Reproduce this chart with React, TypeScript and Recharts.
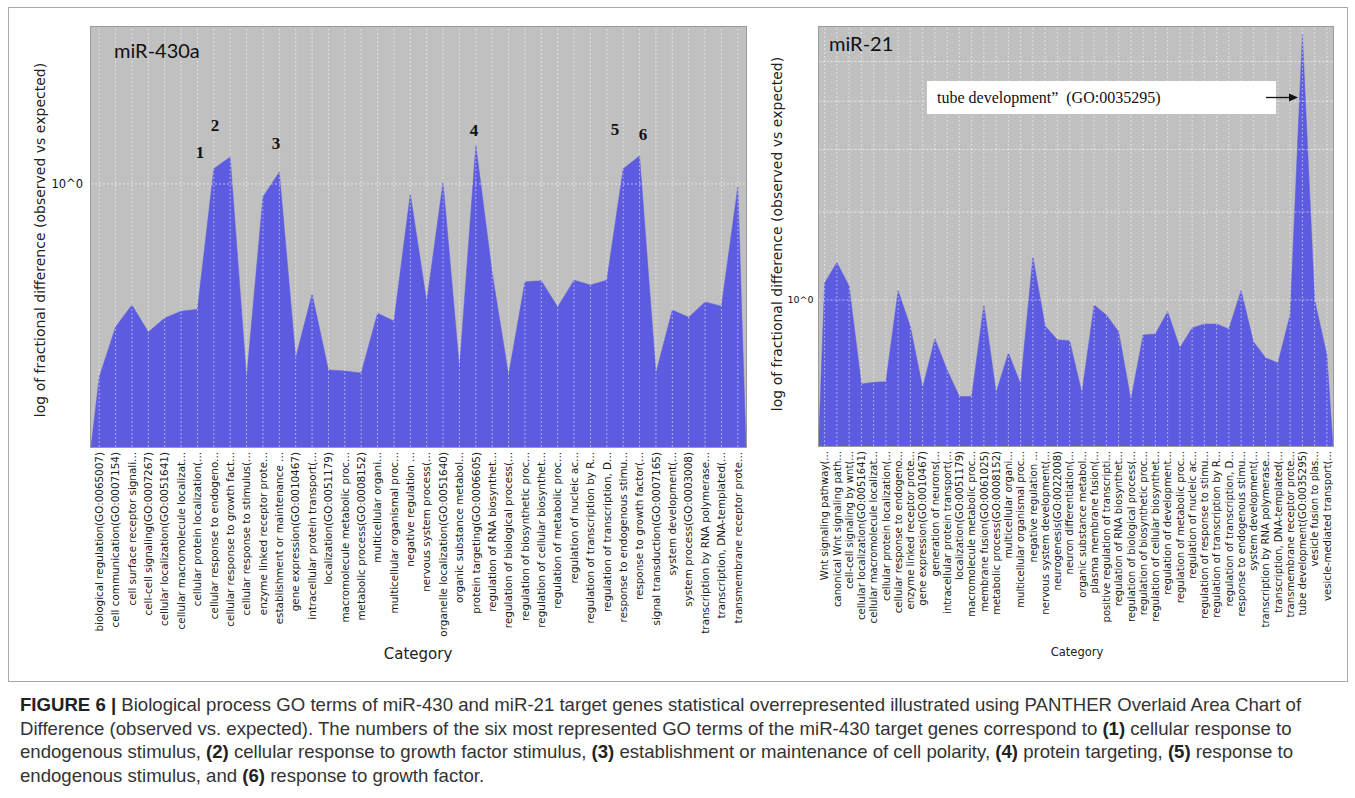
import React from 'react';
import { AreaChart, Area, XAxis, YAxis, CartesianGrid, ReferenceLine } from 'recharts';

// miR-430a (left panel)
const leftCategories = [
  'biological regulation(GO:0065007)',
  'cell communication(GO:0007154)',
  'cell surface receptor signali...',
  'cell-cell signaling(GO:0007267)',
  'cellular localization(GO:0051641)',
  'cellular macromolecule localizat...',
  'cellular protein localization(...',
  'cellular response to endogeno...',
  'cellular response to growth fact...',
  'cellular response to stimulus(...',
  'enzyme linked receptor prote...',
  'establishment or maintenance ...',
  'gene expression(GO:0010467)',
  'intracellular protein transport(...',
  'localization(GO:0051179)',
  'macromolecule metabolic proc...',
  'metabolic process(GO:0008152)',
  'multicellular organi...',
  'multicellular organismal proc...',
  'negative regulation ...',
  'nervous system process(...',
  'organelle localization(GO:0051640)',
  'organic substance metabol...',
  'protein targeting(GO:0006605)',
  'regulation of RNA biosynthet...',
  'regulation of biological process(...',
  'regulation of biosynthetic proc...',
  'regulation of cellular biosynthet...',
  'regulation of metabolic proc...',
  'regulation of nucleic ac...',
  'regulation of transcription by R...',
  'regulation of transcription, D...',
  'response to endogenous stimu...',
  'response to growth factor(...',
  'signal transduction(GO:0007165)',
  'system development(...',
  'system process(GO:0003008)',
  'transcription by RNA polymerase...',
  'transcription, DNA-templated(...',
  'transmembrane receptor prote...',
];
const leftValues = [
  0.426, 0.532, 0.586, 0.52, 0.553, 0.57, 0.575, 1.069, 1.127, 0.424,
  0.944, 1.054, 0.464, 0.615, 0.44, 0.438, 0.434, 0.565, 0.546, 0.957,
  0.594, 1.009, 0.443, 1.188, 0.675, 0.43, 0.649, 0.652, 0.581, 0.654,
  0.64, 0.654, 1.069, 1.132, 0.434, 0.573, 0.555, 0.594, 0.583, 0.987,
];
const leftDomain = [0.313, 2];
const leftGridY = [1];

// miR-21 (right panel)
const rightCategories = [
  'Wnt signaling pathway(...',
  'canonical Wnt signaling path...',
  'cell-cell signaling by wnt(...',
  'cellular localization(GO:0051641)',
  'cellular macromolecule localizat...',
  'cellular protein localization(...',
  'cellular response to endogeno...',
  'enzyme linked receptor prote...',
  'gene expression(GO:0010467)',
  'generation of neurons(...',
  'intracellular protein transport(...',
  'localization(GO:0051179)',
  'macromolecule metabolic proc...',
  'membrane fusion(GO:0061025)',
  'metabolic process(GO:0008152)',
  'multicellular organi...',
  'multicellular organismal proc...',
  'negative regulation ...',
  'nervous system development(...',
  'neurogenesis(GO:0022008)',
  'neuron differentiation(...',
  'organic substance metabol...',
  'plasma membrane fusion(...',
  'positive regulation of transcripti...',
  'regulation of RNA biosynthet...',
  'regulation of biological process(...',
  'regulation of biosynthetic proc...',
  'regulation of cellular biosynthet...',
  'regulation of development...',
  'regulation of metabolic proc...',
  'regulation of nucleic ac...',
  'regulation of response to stimu...',
  'regulation of transcription by R...',
  'regulation of transcription, D...',
  'response to endogenous stimu...',
  'system development(...',
  'transcription by RNA polymerase...',
  'transcription, DNA-templated(...',
  'transmembrane receptor prote...',
  'tube development(GO:0035295)',
  'vesicle fusion to plas...',
  'vesicle-mediated transport(...',
];
const rightValues = [
  1.081, 1.188, 1.067, 0.679, 0.684, 0.686, 1.044, 0.884, 0.667, 0.836,
  0.724, 0.641, 0.641, 0.977, 0.653, 0.783, 0.679, 1.219, 0.887, 0.832,
  0.829, 0.652, 0.977, 0.933, 0.864, 0.631, 0.851, 0.855, 0.948, 0.802,
  0.879, 0.895, 0.895, 0.875, 1.044, 0.825, 0.766, 0.748, 0.933, 3.4,
  1.0, 0.776,
];
const rightDomain = [0.51, 3.52];
const rightGridY = [1, 1.5, 2, 2.5, 3];

const leftMarks = [
  { text: '1', x: 200, y: 153 },
  { text: '2', x: 215, y: 126 },
  { text: '3', x: 276, y: 144 },
  { text: '4', x: 474, y: 131 },
  { text: '5', x: 615, y: 130 },
  { text: '6', x: 643, y: 135 },
];

const AREA_COLOR = '#5d5be0';
const PLOT_BG = '#c0c0c0';

// area drops to the floor at both plot edges, like PANTHER draws it
const buildRows = (values: number[], floor: number) => [
  { x: -0.5, v: floor },
  ...values.map((v, i) => ({ x: i, v })),
  { x: values.length - 0.5, v: floor },
];

const RotTick = (props: any) => {
  const { x, y, payload, labels, size } = props;
  return (
    <text
      x={x}
      y={y}
      transform={`rotate(-90 ${x} ${y})`}
      textAnchor="end"
      dy="0.36em"
      fontSize={size}
      fontFamily="DejaVu Sans"
      fill="#1a1a1a"
    >
      {labels[payload.value]}
    </text>
  );
};

interface PanelProps {
  left: number;
  width: number;
  marginLeft: number;
  marginRight: number;
  marginBottom: number;
  categories: string[];
  values: number[];
  domain: number[];
  gridY: number[];
  tickSize: number;
  yTickSize: number;
  yTickMargin: number;
}

const Panel: React.FC<PanelProps> = (p) => {
  const rows = buildRows(p.values, p.domain[0]);
  const idx = p.categories.map((_, i) => i);
  return (
    <div style={{ position: 'absolute', left: p.left, top: 0 }}>
      <AreaChart
        width={p.width}
        height={680}
        data={rows}
        margin={{ top: 27, left: p.marginLeft, right: p.marginRight, bottom: p.marginBottom }}
      >
        <CartesianGrid fill={PLOT_BG} stroke="none" horizontal={false} vertical={false} />
        <XAxis
          dataKey="x"
          type="number"
          domain={[-0.5, p.categories.length - 0.5]}
          ticks={idx}
          interval={0}
          height={200}
          axisLine={false}
          tickLine={false}
          tickSize={0}
          tickMargin={5}
          tick={<RotTick labels={p.categories} size={p.tickSize} />}
        />
        <YAxis
          type="number"
          scale="log"
          domain={p.domain}
          allowDataOverflow
          ticks={[1]}
          tickFormatter={() => '10^0'}
          width={40}
          axisLine={false}
          tickLine={false}
          tickSize={0}
          tickMargin={p.yTickMargin}
          tick={{ fontSize: p.yTickSize, fill: '#111', fontFamily: 'DejaVu Sans' }}
        />
        <Area
          type="linear"
          dataKey="v"
          stroke={AREA_COLOR}
          strokeWidth={0.5}
          fill={AREA_COLOR}
          fillOpacity={1}
          dot={false}
          activeDot={false}
          isAnimationActive={false}
        />
        {idx.map((i) => (
          <ReferenceLine
            key={`vx${i}`}
            x={i}
            stroke="#ffffff"
            strokeOpacity={0.5}
            strokeDasharray="2 2"
          />
        ))}
        {p.gridY.map((g) => (
          <ReferenceLine
            key={`hy${g}`}
            y={g}
            stroke="#ffffff"
            strokeOpacity={0.6}
            strokeDasharray="2 2"
          />
        ))}
      </AreaChart>
    </div>
  );
};

const abs = (s: React.CSSProperties): React.CSSProperties => ({ position: 'absolute', ...s });

const VTitle = ({ x, y, size, children }: any) => (
  <div
    style={abs({
      left: x,
      top: y,
      transform: 'translate(-50%, -50%) rotate(-90deg)',
      whiteSpace: 'nowrap',
      fontFamily: 'DejaVu Sans',
      fontSize: size,
      color: '#222',
    })}
  >
    {children}
  </div>
);

const B = ({ children }: any) => <b style={{ color: '#222' }}>{children}</b>;

export default function App() {
  return (
    <div style={abs({ left: 0, top: 0, width: 1355, height: 798, background: '#fff' })}>
      <div style={abs({ left: 8, top: 7, width: 1338, height: 673, border: '1px solid #a8a8a8' })} />

      <Panel
        left={0}
        width={760}
        marginLeft={51}
        marginRight={14}
        marginBottom={33}
        categories={leftCategories}
        values={leftValues}
        domain={leftDomain}
        gridY={leftGridY}
        tickSize={10.4}
        yTickSize={11.5}
        yTickMargin={8}
      />
      <Panel
        left={760}
        width={595}
        marginLeft={18.5}
        marginRight={22}
        marginBottom={34}
        categories={rightCategories}
        values={rightValues}
        domain={rightDomain}
        gridY={rightGridY}
        tickSize={10.1}
        yTickSize={9.5}
        yTickMargin={5}
      />

      {/* plot frames */}
      <div style={abs({ left: 90, top: 26, width: 655, height: 420, border: '1px solid #9a9a9a', pointerEvents: 'none' })} />
      <div style={abs({ left: 817.5, top: 26, width: 514.5, height: 419, border: '1px solid #9a9a9a', pointerEvents: 'none' })} />

      <VTitle x={40} y={240} size={14}>log of fractional difference (observed vs expected)</VTitle>
      <VTitle x={777} y={234} size={14}>log of fractional difference (observed vs expected)</VTitle>

      <div style={abs({ left: 114, top: 38, fontFamily: 'Lato', fontSize: 20, color: '#111' })}>miR-430a</div>
      <div style={abs({ left: 829, top: 31, fontFamily: 'Lato', fontSize: 20, color: '#111' })}>miR-21</div>

      {leftMarks.map((m) => (
        <div
          key={m.text}
          style={abs({
            left: m.x,
            top: m.y,
            transform: 'translate(-50%, -50%)',
            fontFamily: 'Liberation Serif',
            fontWeight: 'bold',
            fontSize: 17,
            color: '#111',
          })}
        >
          {m.text}
        </div>
      ))}

      <div
        style={abs({
          left: 927,
          top: 81,
          width: 349,
          height: 33,
          background: '#fff',
          fontFamily: 'Liberation Serif',
          fontSize: 16,
          color: '#111',
          lineHeight: '33px',
          paddingLeft: 10,
          boxSizing: 'border-box',
          whiteSpace: 'pre',
        })}
      >
        {'tube development\u201d  (GO:0035295)'}
      </div>
      <svg style={abs({ left: 1262, top: 90 })} width={40} height={16}>
        <line x1={4} y1={7.5} x2={28} y2={7.5} stroke="#111" strokeWidth={1.3} />
        <polygon points="36,7.5 27,3.5 27,11.5" fill="#111" />
      </svg>

      <div style={abs({ left: 418, top: 654, transform: 'translate(-50%, -50%)', fontFamily: 'DejaVu Sans', fontSize: 15, color: '#222' })}>
        Category
      </div>
      <div style={abs({ left: 1077, top: 652, transform: 'translate(-50%, -50%)', fontFamily: 'DejaVu Sans', fontSize: 11.5, color: '#222' })}>
        Category
      </div>

      <div
        style={abs({
          left: 20,
          top: 693,
          fontFamily: 'Liberation Sans',
          fontSize: 18.6,
          lineHeight: '23.6px',
          color: '#333',
          whiteSpace: 'nowrap',
        })}
      >
        <div>
          <B>FIGURE 6 |</B> Biological process GO terms of miR-430 and miR-21 target genes statistical overrepresented illustrated using PANTHER Overlaid Area Chart of
        </div>
        <div>
          Difference (observed vs. expected). The numbers of the six most represented GO terms of the miR-430 target genes correspond to <B>(1)</B> cellular response to
        </div>
        <div>
          endogenous stimulus, <B>(2)</B> cellular response to growth factor stimulus, <B>(3)</B> establishment or maintenance of cell polarity, <B>(4)</B> protein targeting, <B>(5)</B> response to
        </div>
        <div>
          endogenous stimulus, and <B>(6)</B> response to growth factor.
        </div>
      </div>
    </div>
  );
}
